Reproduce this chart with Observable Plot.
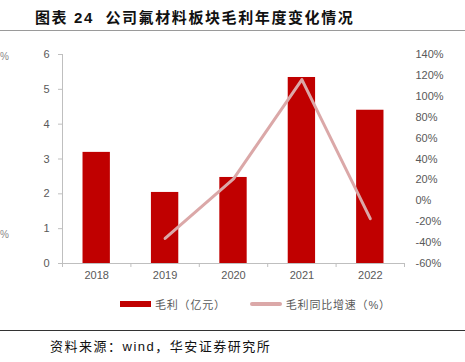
<!DOCTYPE html>
<html>
<head>
<meta charset="utf-8">
<script src="https://cdn.jsdelivr.net/npm/d3@7"></script>
<script src="https://cdn.jsdelivr.net/npm/@observablehq/plot@0.6"></script>
<style>
  html, body { margin: 0; padding: 0; background: #fff; }
  #wrap { position: relative; width: 465px; height: 362px; overflow: hidden; font-family: "Liberation Sans", Arial, "Noto Sans CJK SC", sans-serif; }
  .abs { position: absolute; white-space: nowrap; }
  #title { left: 35px; top: 6px; font-size: 15px; font-weight: bold; letter-spacing: 1.6px; color: #111; font-family: "Liberation Sans", "Noto Sans CJK SC", sans-serif; }
  #topline { left: 0; top: 30px; width: 465px; height: 1px; background: #9a9a9a; }
  #botline { left: 0; top: 330px; width: 465px; height: 1px; background: #333; }
  #source { left: 50px; top: 336px; font-size: 13px; color: #111; letter-spacing: 1.5px; }
  #legend { left: 120px; top: 296px; font-size: 11px; color: #595959; display: flex; align-items: center; letter-spacing: 0.8px; }
  .sw { display: inline-block; margin-right: 4px; }
  .frag { font-size: 10px; color: #888; }
  #plot { left: 0; top: 0; }
</style>
</head>
<body>
<div id="wrap">
  <div class="abs" id="title">图表 24&nbsp; 公司氟材料板块毛利年度变化情况</div>
  <div class="abs" id="topline"></div>
  <div class="abs frag" style="left:0px;top:51px;">%</div>
  <div class="abs frag" style="left:0px;top:229px;">%</div>
  <div class="abs" id="plot"></div>
  <div class="abs" id="legend">
    <span class="sw" style="width:31px;height:6px;background:#C00000;"></span><span style="margin-right:24px;">毛利（亿元）</span>
    <span class="sw" style="width:32px;height:4px;background:#DBA8A8;border-radius:2px;"></span><span>毛利同比增速（%）</span>
  </div>
  <div class="abs" id="botline"></div>
  <div class="abs" id="source">资料来源：wind，华安证券研究所</div>
</div>
<script>
const years = [2018, 2019, 2020, 2021, 2022];
const grossProfit = [3.19, 2.04, 2.47, 5.34, 4.40];
const growthYears = [2019, 2020, 2021, 2022];
const growthPct = [-36, 21, 116, -17];
const leftTicks = [0, 1, 2, 3, 4, 5, 6];
const rightTicks = [-60, -40, -20, 0, 20, 40, 60, 80, 100, 120, 140];

const yMax = 6, pMin = -60, pMax = 140;
const pToY = p => (p - pMin) / (pMax - pMin) * yMax;

const bars = years.map((y, i) => ({year: y, v: grossProfit[i]}));
const growth = growthYears.map((y, i) => ({year: y, p: growthPct[i]}));
const halfBar = 0.2;
const boundaries = [...years.map(y => y - 0.5), years[years.length - 1] + 0.5];

const axisColor = "#BFBFBF";
const textColor = "#595959";

const chart = Plot.plot({
  width: 465,
  height: 285,
  marginTop: 54,
  marginBottom: 22,
  marginLeft: 62,
  marginRight: 61,
  style: {fontFamily: "'Liberation Sans', Arial, sans-serif", fontSize: "11px", color: textColor, background: "transparent"},
  x: {type: "linear", domain: [years[0] - 0.5, years[years.length - 1] + 0.5], label: null},
  y: {domain: [0, yMax], label: null},
  marks: [
    Plot.rectY(bars, {x1: d => d.year - halfBar, x2: d => d.year + halfBar, y: "v", fill: "#C00000"}),
    Plot.line(growth, {x: "year", y: d => pToY(d.p), stroke: "#DBA8A8", strokeWidth: 3, strokeLinecap: "round", strokeLinejoin: "round"}),
    Plot.ruleY([0], {stroke: axisColor, strokeWidth: 1}),
    Plot.ruleX([years[0] - 0.5], {y1: 0, y2: yMax, stroke: axisColor, strokeWidth: 1}),
    Plot.axisX({ticks: boundaries, tickFormat: () => "", tickSize: 4, stroke: axisColor, label: null}),
    Plot.axisX({ticks: years, tickFormat: d => String(d), tickSize: 0, tickPadding: 8, fill: textColor, fontSize: 11, label: null}),
    Plot.axisY({anchor: "left", ticks: leftTicks, tickFormat: d => String(d), tickSize: 4, tickPadding: 9, stroke: axisColor, fill: textColor, label: null}),
    Plot.axisY({anchor: "right", ticks: rightTicks.map(pToY), tickFormat: (d, i) => rightTicks[i] + "%", tickSize: 0, tickPadding: 11, textAnchor: "start", fill: textColor, label: null})
  ]
});
document.getElementById("plot").appendChild(chart);
</script>
</body>
</html>
